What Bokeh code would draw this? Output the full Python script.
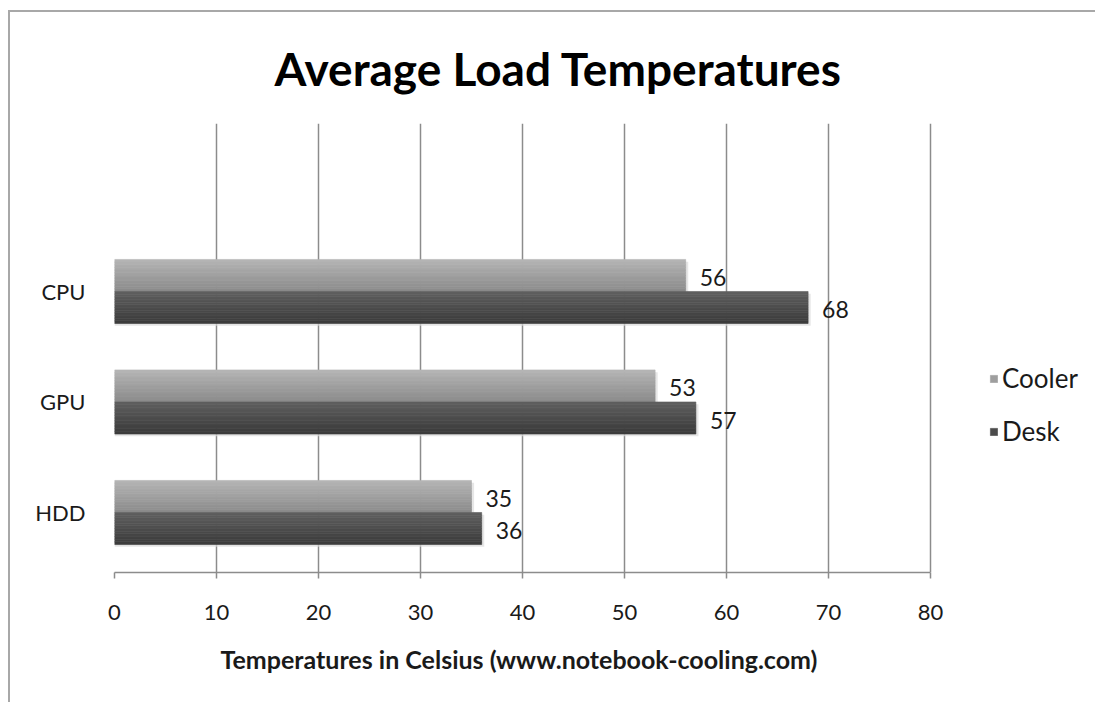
from bokeh.plotting import figure
from bokeh.models import Range1d, Legend, LegendItem, FixedTicker, Title
from bokeh.embed import file_html
from bokeh.resources import INLINE

categories = ["HDD", "GPU", "CPU"]
cooler = [35, 53, 56]
desk = [36, 57, 68]
x_ticks = [0, 10, 20, 30, 40, 50, 60, 70, 80]
series_names = ["Cooler", "Desk"]
title_text = "Average Load Temperatures"
x_title = "Temperatures in Celsius (www.notebook-cooling.com)"

FONT = "Lato"
TXT = "#1a1a1a"
GRID = "#8c8c8c"

X_MAX = x_ticks[-1]
# frame extends to the right edge so the legend sits inside it; axis bounded to 0..80
x_end = X_MAX * 983 / 816

p = figure(width=1087, height=692, x_range=Range1d(0, x_end), y_range=Range1d(-0.543, 3.52),
           output_backend="svg", toolbar_location=None,
           min_border_left=104, min_border_right=0, min_border_top=111, min_border_bottom=132)
p.styles = {"border-left": "2px solid #a8a8a8", "border-top": "2px solid #a8a8a8",
            "margin-top": "10px", "margin-left": "8px"}
p.outline_line_color = None
p.background_fill_color = "white"
p.border_fill_color = "white"

h = 0.29
pos = list(range(len(categories)))

def gradient(c0, c1, n):
    out = []
    for k in range(n):
        t = k / (n - 1)
        r = [int(round(a + (b - a) * t)) for a, b in zip(c0, c1)]
        out.append("#%02x%02x%02x" % tuple(r))
    return out

N = 12
specs = [
    (cooler, +h / 2, (0xb4, 0xb4, 0xb4), (0x8c, 0x8c, 0x8c)),
    (desk, -h / 2, (0x5e, 0x5e, 0x5e), (0x3c, 0x3c, 0x3c)),
]
legend_renderers = []
for vals, off, c0, c1 in specs:
    p.hbar(y=[i + off - 0.02 for i in pos], left=0, right=[v + 0.25 for v in vals], height=h,
           fill_color="#dcdcdc", line_color=None, fill_alpha=0.7)
for vals, off, c0, c1 in specs:
    cols = gradient(c0, c1, N)
    mid = None
    for k in range(N):
        yc = [i + off + h / 2 - (k + 0.5) * h / N for i in pos]
        r = p.hbar(y=yc, left=0, right=vals, height=h / N, fill_color=cols[k],
                   line_color=cols[k], line_width=0.6)
        if k == N // 2:
            mid = r
    legend_renderers.append(mid)

for vals, off, c0, c1 in specs:
    p.text(x=vals, y=[i + off for i in pos], text=[str(v) for v in vals], x_offset=14, y_offset=2,
           text_baseline="middle", text_align="left", text_font_size="23px",
           text_color=TXT, text_font={"value": FONT})

xa = p.xaxis[0]
xa.ticker = FixedTicker(ticks=x_ticks)
xa.bounds = (x_ticks[0], X_MAX)
xa.axis_line_color = GRID
xa.axis_line_width = 1.5
xa.major_tick_line_color = GRID
xa.major_tick_line_width = 1.5
xa.major_tick_in = 0
xa.major_tick_out = 6
xa.minor_tick_line_color = None
xa.major_label_standoff = 26
xa.major_label_text_font = FONT
xa.major_label_text_font_size = "22px"
xa.major_label_text_color = TXT

ya = p.yaxis[0]
ya.ticker = FixedTicker(ticks=pos)
ya.major_label_overrides = {i: c for i, c in zip(pos, categories)}
ya.axis_line_color = None
ya.major_tick_line_color = None
ya.minor_tick_line_color = None
ya.major_label_standoff = 23
ya.major_label_text_font = FONT
ya.major_label_text_font_size = "22px"
ya.major_label_text_color = TXT

p.ygrid.grid_line_color = None
p.xgrid.ticker = FixedTicker(ticks=x_ticks)
p.xgrid.grid_line_color = GRID
p.xgrid.grid_line_width = 1.5

p.title.text = title_text
p.title.align = "left"
p.title.offset = 160
p.title.standoff = 53
p.title.vertical_align = "middle"
p.title.text_font = FONT
p.title.text_font_style = "bold"
p.title.text_font_size = "46px"
p.title.text_color = "#000000"

p.add_layout(Title(text=x_title, align="left", offset=106, standoff=39, text_font=FONT,
                   text_font_style="bold", text_font_size="25px", text_color=TXT), "below")

legend = Legend(items=[LegendItem(label=n, renderers=[r]) for n, r in zip(series_names, legend_renderers)],
                location=(875, 125), glyph_width=9, glyph_height=9, label_standoff=4,
                spacing=21, padding=0, margin=0, border_line_color=None, background_fill_alpha=0,
                label_text_font=FONT, label_text_font_size="26px", label_text_color=TXT)
p.add_layout(legend, "center")

open("out.html", "w").write(file_html(p, INLINE))
